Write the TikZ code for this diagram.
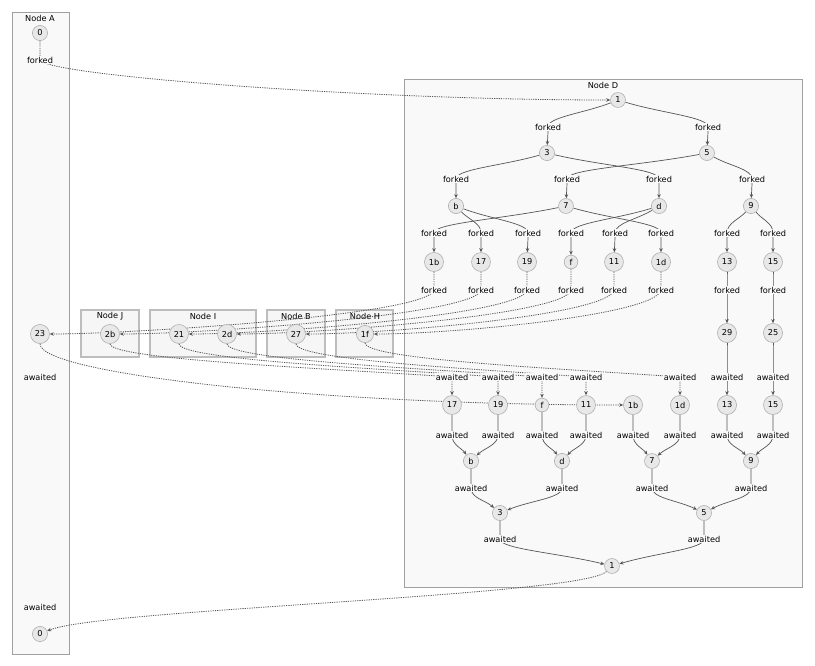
\documentclass[tikz,border=0pt]{standalone}
\usepackage{fontspec}
\setmainfont{DejaVu Sans}
\usetikzlibrary{calc,arrows.meta}
\definecolor{cfill}{HTML}{F9F9F9}
\definecolor{sfill}{HTML}{F6F6F6}
\definecolor{cline}{HTML}{A0A0A0}
\definecolor{sline}{HTML}{BDBDBD}
\definecolor{nfill}{HTML}{E8E8E8}
\definecolor{nline}{HTML}{B0B0B0}
\definecolor{eline}{HTML}{555555}
\pgfdeclarelayer{bg}\pgfdeclarelayer{edges}\pgfsetlayers{bg,edges,main}
\tikzset{
 every node/.style={font=\fontsize{8.2}{9.8}\selectfont},
 circ/.style={circle,draw=nline,fill=nfill,inner sep=2.5pt,line width=0.6pt},
 lbl/.style={fill=cfill,inner sep=1pt},
 edgeline/.style={draw=eline,line width=0.7pt,-{Stealth[length=4pt,width=3.5pt]}},
 dots/.style={line width=0.8pt,dash pattern=on 1.2pt off 1.1pt},
 clus/.style={draw=cline,fill=cfill,line width=0.7pt},
 sclus/.style={draw=sline,fill=sfill,line width=1.1pt}
}
\newcommand\ed[3]{\draw[edgeline] (#1) .. controls ($(#1)!0.5!(#2)$) and ($(#2)+(0,-10)$) .. (#2.center) .. controls ($(#2)+(0,10)$) and ($(#2)!0.5!(#3)$) .. (#3);}
\newcommand\fx[3]{\draw[edgeline,dots] (#1) -- (#2.center) .. controls ($(#2)+(-5,25)$) and ($(#3.east)+(80,0)$) .. (#3.east);}
\newcommand\ax[3]{\draw[edgeline,dots] (#1) .. controls ($(#1)+(0,26)$) and ($(#2)+(-110,-8)$) .. (#2.center) -- (#3);}
\begin{document}
\begin{tikzpicture}[x=1pt,y=-1pt]
\useasboundingbox (0,0) rectangle (815,665);
\begin{pgfonlayer}{bg}
\fill[white] (0,0) rectangle (815,665);
\draw[clus] (12,12) rectangle (69,654);
\node at (40,18.5) {Node A};
\draw[clus] (404,79) rectangle (802,587);
\node at (603,85) {Node D};
\draw[sclus] (81,310) rectangle (139,357);
\node at (110,316) {Node J};
\draw[sclus] (150,310) rectangle (256,357);
\node at (203,316) {Node I};
\draw[sclus] (267,310) rectangle (325,357);
\node at (296,316) {Node B};
\draw[sclus] (336,310) rectangle (393,357);
\node at (365,316) {Node H};
\end{pgfonlayer}
% Node A
\node[circ] (A0) at (40,33) {0};
\node[lbl] (Af) at (40,60) {forked};
\node[circ] (c23) at (40,334) {23};
\node[lbl] (Aw) at (40,377) {awaited};
\node[lbl] (Aw2) at (40,607) {awaited};
\node[circ] (z0) at (40,634) {0};
% small clusters
\node[circ] (c2b) at (110,334) {2b};
\node[circ] (c21) at (179,334) {21};
\node[circ] (c2d) at (227,334) {2d};
\node[circ] (c27) at (296,334) {27};
\node[circ] (c1f) at (365,334) {1f};
% Node D top tree
\node[circ] (t1) at (618,100) {1};
\node[lbl] (lf1) at (548,127) {forked};
\node[lbl] (lf2) at (708,127) {forked};
\node[circ] (t3) at (547,153) {3};
\node[circ] (t5) at (707,153) {5};
\node[lbl] (lf3) at (456,179) {forked};
\node[lbl] (lf4) at (567,179) {forked};
\node[lbl] (lf5) at (659,179) {forked};
\node[lbl] (lf6) at (752,179) {forked};
\node[circ] (tb) at (456,206) {b};
\node[circ] (t7) at (566,206) {7};
\node[circ] (td) at (659,206) {d};
\node[circ] (t9) at (751,206) {9};
\node[lbl] (g1) at (434,233) {forked};
\node[lbl] (g2) at (481,233) {forked};
\node[lbl] (g3) at (528,233) {forked};
\node[lbl] (g4) at (571,233) {forked};
\node[lbl] (g5) at (615,233) {forked};
\node[lbl] (g6) at (661,233) {forked};
\node[lbl] (g7) at (727,233) {forked};
\node[lbl] (g8) at (773,233) {forked};
\node[circ] (t1b) at (434,262) {1b};
\node[circ] (t17) at (481,262) {17};
\node[circ] (t19) at (527,262) {19};
\node[circ] (tf) at (571,262) {f};
\node[circ] (t11) at (614,262) {11};
\node[circ] (t1d) at (661,262) {1d};
\node[circ] (t13) at (727,262) {13};
\node[circ] (t15) at (773,262) {15};
\node[lbl] (h1) at (434,290) {forked};
\node[lbl] (h2) at (481,290) {forked};
\node[lbl] (h3) at (527,290) {forked};
\node[lbl] (h4) at (571,290) {forked};
\node[lbl] (h5) at (614,290) {forked};
\node[lbl] (h6) at (661,290) {forked};
\node[lbl] (h7) at (727,290) {forked};
\node[lbl] (h8) at (773,290) {forked};
\node[circ] (t29) at (727,333) {29};
\node[circ] (t25) at (773,333) {25};
% Node D bottom tree
\node[lbl] (k1) at (452,377) {awaited};
\node[lbl] (k2) at (498,377) {awaited};
\node[lbl] (k3) at (542,377) {awaited};
\node[lbl] (k4) at (586,377) {awaited};
\node[lbl] (k6) at (680,377) {awaited};
\node[lbl] (k7) at (727,377) {awaited};
\node[lbl] (k8) at (773,377) {awaited};
\node[circ] (u17) at (452,405) {17};
\node[circ] (u19) at (498,405) {19};
\node[circ] (uf) at (542,405) {f};
\node[circ] (u11) at (586,405) {11};
\node[circ] (u1b) at (633,405) {1b};
\node[circ] (u1d) at (680,405) {1d};
\node[circ] (u13) at (727,405) {13};
\node[circ] (u15) at (773,405) {15};
\node[lbl] (m1) at (452,435) {awaited};
\node[lbl] (m2) at (498,435) {awaited};
\node[lbl] (m3) at (542,435) {awaited};
\node[lbl] (m4) at (586,435) {awaited};
\node[lbl] (m5) at (633,435) {awaited};
\node[lbl] (m6) at (680,435) {awaited};
\node[lbl] (m7) at (727,435) {awaited};
\node[lbl] (m8) at (773,435) {awaited};
\node[circ] (ub) at (471,461) {b};
\node[circ] (ud) at (562,461) {d};
\node[circ] (u7) at (652,461) {7};
\node[circ] (u9) at (751,461) {9};
\node[lbl] (n1) at (471,488) {awaited};
\node[lbl] (n2) at (562,488) {awaited};
\node[lbl] (n3) at (652,488) {awaited};
\node[lbl] (n4) at (751,488) {awaited};
\node[circ] (u3) at (500,513) {3};
\node[circ] (u5) at (704,513) {5};
\node[lbl] (p1) at (500,539) {awaited};
\node[lbl] (p2) at (704,539) {awaited};
\node[circ] (u1) at (612,566) {1};
\begin{pgfonlayer}{edges}
\draw[edgeline,dots] (A0) -- (Af.center) .. controls ($(Af)+(5,15)$) and ($(t1.west)+(-250,0)$) .. (t1.west);
\ed{t1}{lf1}{t3} \ed{t1}{lf2}{t5}
\ed{t3}{lf3}{tb} \ed{t5}{lf4}{t7} \ed{t3}{lf5}{td} \ed{t5}{lf6}{t9}
\ed{t7}{g1}{t1b} \ed{tb}{g2}{t17} \ed{tb}{g3}{t19} \ed{td}{g4}{tf}
\ed{td}{g5}{t11} \ed{t7}{g6}{t1d} \ed{t9}{g7}{t13} \ed{t9}{g8}{t15}
\ed{t13}{h7}{t29} \ed{t15}{h8}{t25}
\fx{t1b}{h1}{c23} \fx{t17}{h2}{c2b} \fx{t19}{h3}{c21}
\fx{tf}{h4}{c2d} \fx{t11}{h5}{c27} \fx{t1d}{h6}{c1f}
\ed{t29}{k7}{u13} \ed{t25}{k8}{u15}
\ax{c2b}{k1}{u17} \ax{c21}{k2}{u19} \ax{c2d}{k3}{uf} \ax{c27}{k4}{u11} \ax{c1f}{k6}{u1d}
\draw[edgeline,dots] (c23) .. controls ($(c23)+(0,40)$) and ($(u1b.west)+(-300,0)$) .. (u1b.west);
\ed{u17}{m1}{ub} \ed{u19}{m2}{ub} \ed{uf}{m3}{ud} \ed{u11}{m4}{ud}
\ed{u1b}{m5}{u7} \ed{u1d}{m6}{u7} \ed{u13}{m7}{u9} \ed{u15}{m8}{u9}
\ed{ub}{n1}{u3} \ed{ud}{n2}{u3} \ed{u7}{n3}{u5} \ed{u9}{n4}{u5}
\ed{u3}{p1}{u1} \ed{u5}{p2}{u1}
\draw[edgeline,dots] (u1) .. controls ($(u1)+(-30,30)$) and ($(z0)+(60,-25)$) .. (z0);
\end{pgfonlayer}
\end{tikzpicture}
\end{document}
